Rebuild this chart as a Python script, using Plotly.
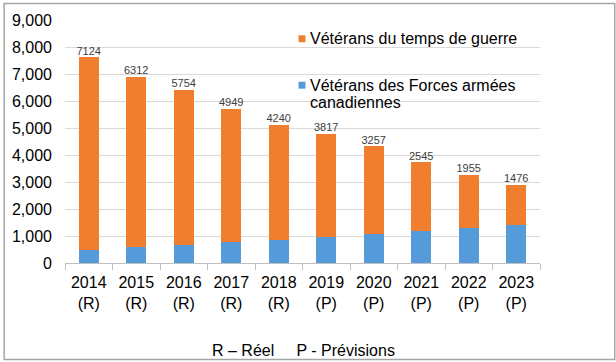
import plotly.graph_objects as go

years = ["2014<br>(R)", "2015<br>(R)", "2016<br>(R)", "2017<br>(R)", "2018<br>(R)",
         "2019<br>(P)", "2020<br>(P)", "2021<br>(P)", "2022<br>(P)", "2023<br>(P)"]
caf_veterans = [490, 585, 671, 768, 866, 976, 1061, 1183, 1305, 1415]
war_veterans = [7124, 6312, 5754, 4949, 4240, 3817, 3257, 2545, 1955, 1476]
totals = [a + b for a, b in zip(caf_veterans, war_veterans)]
legend_war = "Vétérans du temps de guerre"
legend_caf = ["Vétérans des Forces armées", "canadiennes"]
footnote = "R – Réel     P - Prévisions"

FONT = "Liberation Sans, Arial, sans-serif"
BLUE = "#559AD9"
ORANGE = "#EF7E2F"

L, R, T, B = 62, 76, 17.5, 98.5
W, H = 616, 362
PW, PH = W - L - R, H - T - B


def px(x):
    return (x - L) / PW


def py(y):
    return (H - B - y) / PH


fig = go.Figure()
fig.add_trace(go.Bar(
    x=years, y=caf_veterans, name=" ".join(legend_caf),
    marker=dict(color=BLUE, line=dict(width=0)),
))
fig.add_trace(go.Bar(
    x=years, y=war_veterans, name=legend_war,
    marker=dict(color=ORANGE, line=dict(width=0)),
))
fig.add_trace(go.Scatter(
    x=years, y=totals, mode="text", text=[str(v) for v in war_veterans],
    textposition="top center", textfont=dict(size=11, color="#404040", family=FONT),
    showlegend=False, hoverinfo="skip", cliponaxis=False,
))

shapes = [
    dict(type="rect", xref="paper", yref="paper",
         x0=px(0.75), x1=px(615.25), y0=py(361.25), y1=py(0.75),
         line=dict(color="#A6A6A6", width=1.5), fillcolor="rgba(0,0,0,0)", layer="below"),
    dict(type="rect", xref="paper", yref="paper",
         x0=px(297), x1=px(304), y0=py(40), y1=py(33),
         line=dict(width=0), fillcolor=ORANGE),
    dict(type="rect", xref="paper", yref="paper",
         x0=px(297), x1=px(304), y0=py(87), y1=py(80),
         line=dict(width=0), fillcolor=BLUE),
]

legend_font = dict(size=16, family=FONT, color="#000000")
annotations = [
    dict(text=legend_war, xref="paper", yref="paper", x=px(307), y=py(36.5),
         xanchor="left", yanchor="middle", showarrow=False, font=legend_font),
    dict(text=legend_caf[0], xref="paper", yref="paper", x=px(307), y=py(83.5),
         xanchor="left", yanchor="middle", showarrow=False, font=legend_font),
    dict(text=legend_caf[1], xref="paper", yref="paper", x=px(307), y=py(101),
         xanchor="left", yanchor="middle", showarrow=False, font=legend_font),
    dict(text=footnote, xref="paper", yref="paper", x=px(302), y=py(352),
         xanchor="center", yanchor="middle", showarrow=False, font=legend_font),
]

fig.update_layout(
    width=W, height=H,
    margin=dict(l=L, r=R, t=T, b=B),
    barmode="stack", bargap=0.58,
    paper_bgcolor="white", plot_bgcolor="white",
    font=dict(family=FONT, color="#000000"),
    showlegend=False,
    xaxis=dict(
        type="category", showgrid=False, showline=True, linecolor="#BFBFBF", linewidth=1,
        ticks="outside", tickson="boundaries", ticklen=6, tickcolor="#BFBFBF",
        tickfont=dict(size=16, family=FONT, color="#000000"), ticklabelstandoff=5,
    ),
    yaxis=dict(
        range=[0, 9000], dtick=1000, tickformat=",", showgrid=True, gridcolor="#D9D9D9",
        gridwidth=1, showline=False, zeroline=False, ticks="",
        tickfont=dict(size=16, family=FONT, color="#000000"), ticklabelstandoff=12,
    ),
    shapes=shapes,
    annotations=annotations,
)

fig.write_html("out.html", post_script="document.body.style.margin='0';",
               config={"displayModeBar": False})
